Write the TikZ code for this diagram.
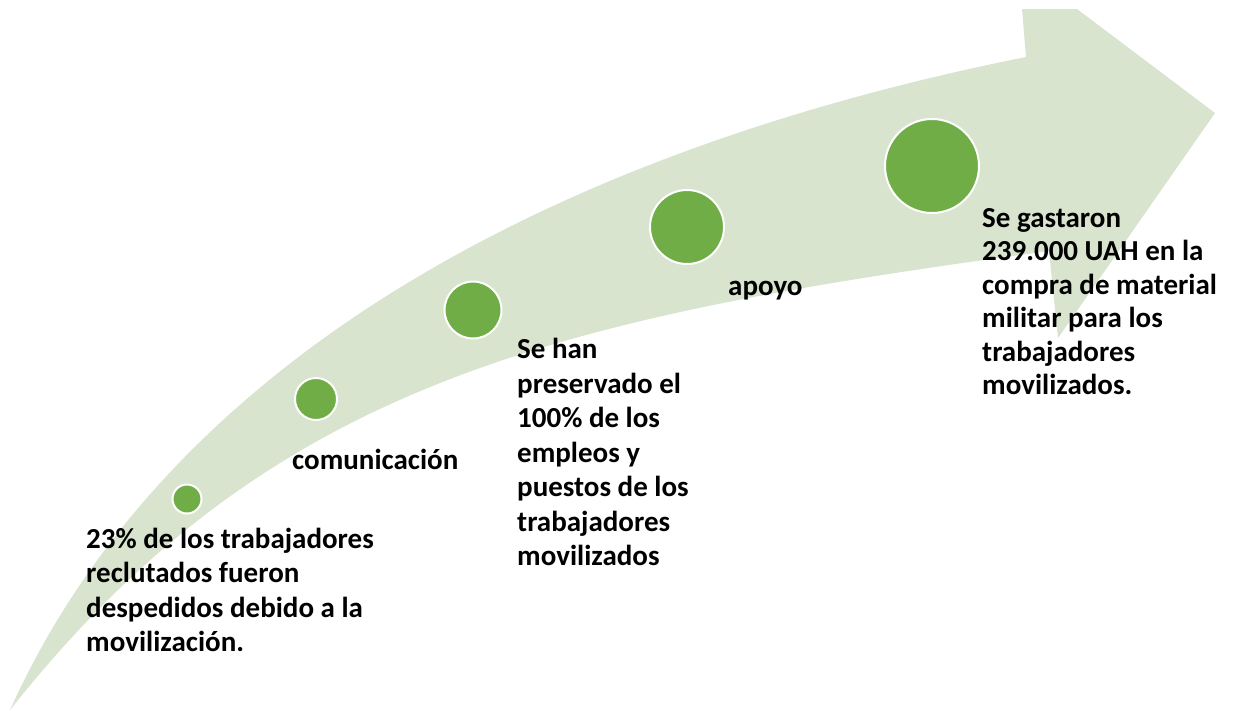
\documentclass[tikz,border=0pt]{standalone}
\usepackage{fontspec}
\setmainfont{Carlito}
\usepackage{tikz}
\definecolor{bandgreen}{RGB}{216,228,206}
\definecolor{dotgreen}{RGB}{112,173,71}

\begin{document}
\begin{tikzpicture}[x=1pt, y=-1pt,
    dot/.style={circle, draw=white, line width=2pt, fill=dotgreen, inner sep=0pt},
    txt/.style={anchor=north west, inner sep=0pt, align=left, font=\bfseries\fontsize{29}{33.5}\selectfont},
    txtwide/.style={txt, font=\bfseries\fontsize{29}{34.5}\selectfont}]

    \useasboundingbox (0,0) rectangle (1235,713);

    % Curved band with arrow head
    \fill[bandgreen] (10,710) .. controls (166,364) and (546,153) .. (1026,57)
        -- (1022,9) -- (1077,9) -- (1215,113) -- (1058,338) -- (1049,251)
        .. controls (553,318) and (270,382) .. (10,710) -- cycle;

    % Dots along the band, growing
    \node (dotA) [dot, minimum size=29pt] at (187,499) {};
    \node (dotB) [dot, minimum size=42pt] at (316,399) {};
    \node (dotC) [dot, minimum size=57pt] at (473,310) {};
    \node (dotD) [dot, minimum size=74pt] at (687,227) {};
    \node (dotE) [dot, minimum size=94pt] at (932,166) {};

    % Texts below the dots
    \node (despidos) [txtwide] at (86,527.5) {23\% de los trabajadores\\reclutados fueron\\despedidos debido a la\\movilización.};
    \node (comunicacion) [txt] at (292,448.5) {comunicación};
    \node (empleos) [txtwide] at (517,338) {Se han\\preservado el\\100\% de los\\empleos y\\puestos de los\\trabajadores\\movilizados};
    \node (apoyo) [txt] at (728,281) {apoyo};
    \node (material) [txt] at (982,208) {Se gastaron\\239.000 UAH en la\\compra de material\\militar para los\\trabajadores\\movilizados.};

\end{tikzpicture}
\end{document}
